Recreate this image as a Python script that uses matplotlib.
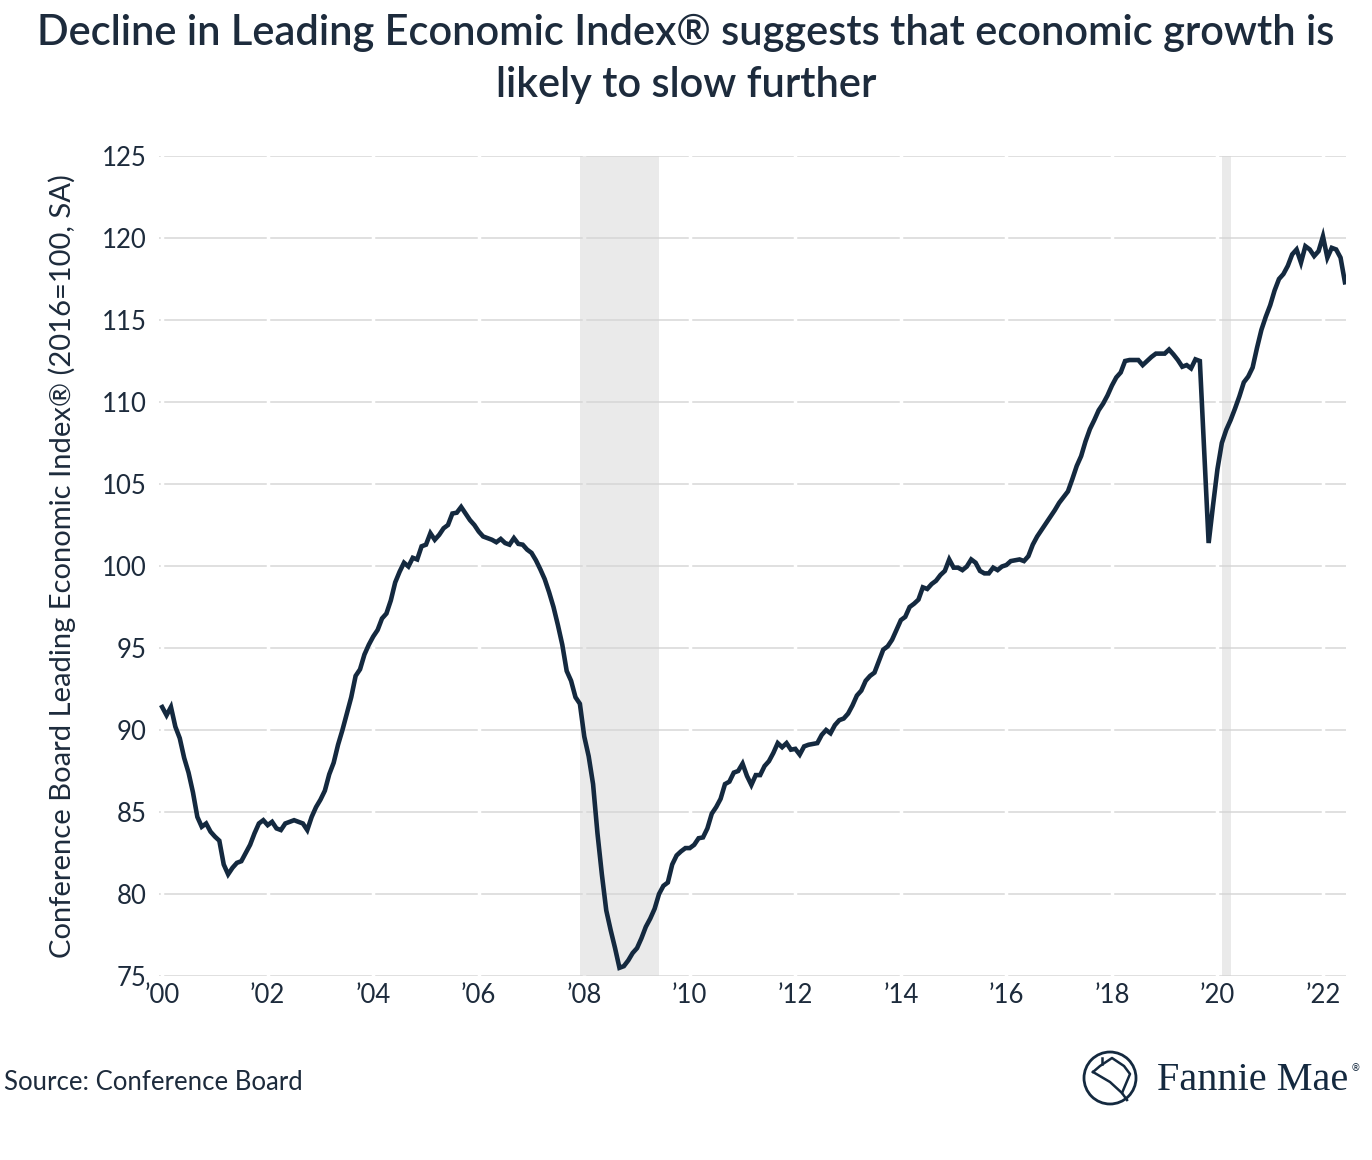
import numpy as np
import matplotlib.pyplot as plt
from matplotlib.patches import Circle
from matplotlib.lines import Line2D

# Conference Board Leading Economic Index, monthly, starting Jan 2000
lei_2000 = [91.4, 90.9, 91.4, 90.2, 89.5, 88.3, 87.4, 86.2, 84.7, 84.1, 84.3, 83.8]
lei_2001 = [83.5, 83.25, 81.8, 81.2, 81.6, 81.9, 82.0, 82.5, 83.0, 83.7, 84.3, 84.5]
lei_2002 = [84.2, 84.4, 84.0, 83.9, 84.3, 84.4, 84.5, 84.4, 84.3, 83.9, 84.7, 85.3]
lei_2003 = [85.75, 86.3, 87.3, 88.0, 89.1, 90.0, 91.0, 92.0, 93.3, 93.7, 94.6, 95.2]
lei_2004 = [95.7, 96.1, 96.8, 97.1, 97.9, 99.0, 99.65, 100.2, 99.97, 100.5, 100.4, 101.2]
lei_2005 = [101.3, 102.0, 101.6, 101.9, 102.3, 102.5, 103.2, 103.25, 103.6, 103.2, 102.8, 102.5]
lei_2006 = [102.1, 101.8, 101.7, 101.6, 101.45, 101.65, 101.4, 101.3, 101.7, 101.35, 101.3, 101.0]
lei_2007 = [100.8, 100.35, 99.8, 99.2, 98.4, 97.5, 96.4, 95.2, 93.6, 93.0, 92.0, 91.6]
lei_2008 = [89.6, 88.4, 86.7, 83.7, 81.2, 79.0, 77.8, 76.7, 75.5, 75.6, 75.95, 76.4]
lei_2009 = [76.7, 77.3, 78.0, 78.5, 79.1, 80.0, 80.5, 80.7, 81.8, 82.35, 82.6, 82.8]
lei_2010 = [82.8, 83.0, 83.4, 83.45, 84.0, 84.9, 85.3, 85.8, 86.7, 86.85, 87.4, 87.5]
lei_2011 = [87.95, 87.2, 86.65, 87.25, 87.25, 87.8, 88.1, 88.6, 89.2, 88.95, 89.2, 88.8]
lei_2012 = [88.85, 88.5, 89.0, 89.1, 89.15, 89.2, 89.7, 90.0, 89.8, 90.3, 90.6, 90.7]
lei_2013 = [91.0, 91.5, 92.1, 92.4, 93.0, 93.3, 93.5, 94.2, 94.9, 95.1, 95.5, 96.1]
lei_2014 = [96.7, 96.9, 97.5, 97.7, 97.95, 98.7, 98.6, 98.9, 99.1, 99.45, 99.7, 100.4]
lei_2015 = [99.9, 99.9, 99.75, 99.97, 100.4, 100.2, 99.7, 99.55, 99.55, 99.9, 99.75, 99.97]
lei_2016 = [100.06, 100.3, 100.35, 100.4, 100.3, 100.6, 101.3, 101.8, 102.2, 102.6, 103.0, 103.4]
lei_2017 = [103.85, 104.2, 104.55, 105.3, 106.1, 106.7, 107.6, 108.35, 108.9, 109.5, 109.9, 110.4]
lei_2018 = [111.0, 111.5, 111.8, 112.5, 112.56, 112.56, 112.56, 112.25, 112.5, 112.75, 112.95, 112.95]
lei_2019 = [112.95, 113.2, 112.9, 112.56, 112.15, 112.25, 112.05, 112.6, 112.5, 107.0, 101.4, 103.7]
lei_2020 = [105.9, 107.5, 108.3, 108.9, 109.6, 110.35, 111.2, 111.55, 112.1, 113.3, 114.4, 115.2]
lei_2021 = [115.9, 116.8, 117.5, 117.8, 118.3, 119.0, 119.3, 118.5, 119.5, 119.3, 118.9, 119.2]
lei_2022 = [120.1, 118.8, 119.4, 119.3, 118.8, 117.3]

lei = (lei_2000 + lei_2001 + lei_2002 + lei_2003 + lei_2004 + lei_2005 + lei_2006
       + lei_2007 + lei_2008 + lei_2009 + lei_2010 + lei_2011 + lei_2012 + lei_2013
       + lei_2014 + lei_2015 + lei_2016 + lei_2017 + lei_2018 + lei_2019 + lei_2020
       + lei_2021 + lei_2022)
months = 2000 + np.arange(len(lei)) / 12

# recession periods (start, end) as decimal years
recession_starts = [2007 + 11 / 12, 2020 + 1 / 12]
recession_ends = [2009 + 5 / 12, 2020 + 3 / 12]

tick_years = list(range(2000, 2023, 2))
tick_labels = ["\u2019%02d" % (y % 100) for y in tick_years]
y_ticks = list(range(75, 130, 5))

navy = '#14293f'
text_col = '#1d2b3c'

plt.rcParams['font.family'] = ['Lato', 'DejaVu Sans']

fig = plt.figure(figsize=(13.72, 11.6), dpi=100)
ax = fig.add_axes([159 / 1372, 1 - 976 / 1160, (1346 - 159) / 1372, 820 / 1160])

for y in y_ticks:
    ax.axhline(y, color='#e0e0e0', lw=1.4, zorder=1)
for yr in tick_years:
    ax.axvline(yr, color='white', lw=2.5, zorder=1.5)

# translucent shading so gridlines still show darker through it
for s, e in zip(recession_starts, recession_ends):
    ax.axvspan(s, e, color='#d6d6d6', alpha=0.5, lw=0, zorder=2)

ax.plot(months, lei, color=navy, lw=3.3, zorder=3, solid_joinstyle='miter')

ax.set_xlim(2000 - 0.06, months[-1] + 0.02)
ax.set_ylim(75, 125)
ax.set_xticks(tick_years)
ax.set_xticklabels(tick_labels)
ax.set_yticks(y_ticks)
for sp in ax.spines.values():
    sp.set_visible(False)
ax.tick_params(axis='both', length=0, labelsize=18.5, colors=text_col)
ax.tick_params(axis='y', pad=9)
ax.tick_params(axis='x', pad=5)

ax.set_ylabel('Conference Board Leading Economic Index\u00ae (2016=100, SA)',
              fontsize=21, color=text_col, labelpad=18)

fig.text(0.5, 1 - 14 / 1160,
         'Decline in Leading Economic Index\u00ae suggests that economic growth is\nlikely to slow further',
         ha='center', va='top', fontsize=30, fontweight='semibold',
         color=text_col, linespacing=1.45)

fig.text(4 / 1372, 1 - 1083 / 1160, 'Source: Conference Board',
         ha='left', va='center', fontsize=18.5, color=text_col)

# Fannie Mae logo
circ = Circle((1110, 1160 - 1078), 26, transform=None, fill=False, ec=navy, lw=2)
fig.patches.append(circ)
hx = [1093, 1100, 1112, 1124, 1130, 1122, 1127]
hy = [1072, 1066, 1058, 1066, 1074, 1093, 1100]
fig.add_artist(Line2D([x / 1372 for x in hx], [1 - y / 1160 for y in hy],
                      color=navy, lw=1.8))
fig.add_artist(Line2D([1093 / 1372, 1110 / 1372, 1122 / 1372],
                      [1 - 1072 / 1160, 1 - 1082 / 1160, 1 - 1093 / 1160],
                      color=navy, lw=1.8))
fig.add_artist(Line2D([1102 / 1372, 1102 / 1372], [1 - 1064 / 1160, 1 - 1058 / 1160],
                      color=navy, lw=1.8))
fig.text(1157 / 1372, 1 - 1080 / 1160, 'Fannie Mae', ha='left', va='center',
         fontsize=29, color=navy, family='Liberation Serif')
fig.text(1351 / 1372, 1 - 1068 / 1160, '\u00ae', ha='left', va='center',
         fontsize=7, color=navy, family='DejaVu Sans')

fig.savefig('out.png', dpi=100)
